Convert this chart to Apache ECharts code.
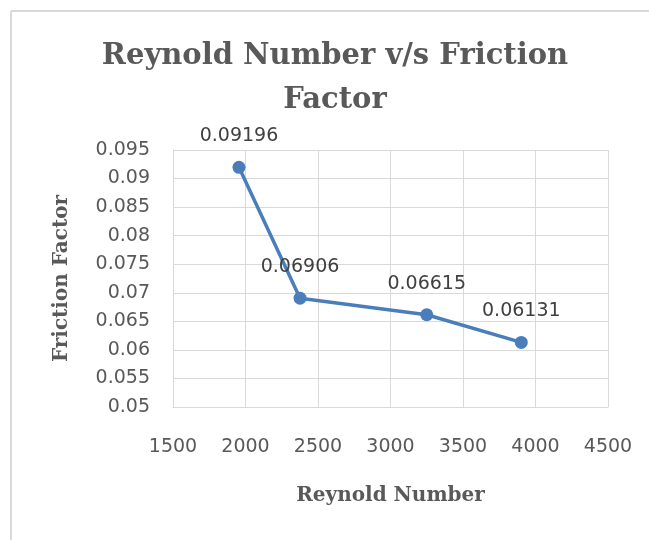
<!DOCTYPE html>
<html>
<head>
<meta charset="utf-8">
<script src="https://cdn.jsdelivr.net/npm/echarts@6/dist/echarts.min.js"></script>
<style>
  html, body { margin: 0; padding: 0; background: #fff; }
  #container { width: 649px; height: 540px; }
</style>
</head>
<body>
<div id="container"></div>
<script>
// data
const reynolds = [1955, 2376, 3250, 3902]
const friction = [0.09196, 0.06906, 0.06615, 0.06131]
const xTicks = [1500, 2000, 2500, 3000, 3500, 4000, 4500]
const yTicks = [0.05, 0.055, 0.06, 0.065, 0.07, 0.075, 0.08, 0.085, 0.09, 0.095]

const chart = echarts.init(document.getElementById('container'), null, { renderer: 'canvas' })
const gridColor = '#d9d9d9'
const textGray = '#595959'
const serif = 'DejaVu Serif'
const sans = 'DejaVu Sans'

const points = reynolds.map((x, i) => [x, friction[i]])

const option = {
  backgroundColor: '#fff',
  animation: false,
  // outer chart border, only top and left edges are inside the picture
  graphic: [
    {
      type: 'line',
      shape: { x1: 11, y1: 11, x2: 649, y2: 11 },
      style: { stroke: gridColor, lineWidth: 2 },
      silent: true
    },
    {
      type: 'line',
      shape: { x1: 11, y1: 11, x2: 11, y2: 540 },
      style: { stroke: gridColor, lineWidth: 2 },
      silent: true
    }
  ],
  title: {
    text: 'Reynold Number v/s Friction\nFactor',
    left: 335,
    top: 34,
    padding: 0,
    textAlign: 'center',
    textStyle: {
      fontFamily: serif,
      fontWeight: 'bold',
      fontSize: 29,
      lineHeight: 44,
      color: textGray
    }
  },
  grid: {
    left: 173,
    right: 41,
    top: 150,
    bottom: 133,
    containLabel: false
  },
  xAxis: {
    type: 'value',
    min: xTicks[0],
    max: xTicks[xTicks.length - 1],
    interval: xTicks[1] - xTicks[0],
    name: 'Reynold Number',
    nameLocation: 'middle',
    nameGap: 79,
    nameTextStyle: {
      fontFamily: serif,
      fontWeight: 'bold',
      fontSize: 20,
      color: textGray
    },
    axisLine: { show: true, lineStyle: { color: gridColor, width: 1 } },
    axisTick: { show: false },
    axisLabel: {
      margin: 31,
      fontFamily: sans,
      fontSize: 19,
      color: textGray,
      formatter: function(v) {
        return String(v)
      }
    },
    splitLine: { show: true, lineStyle: { color: gridColor, width: 1 } }
  },
  yAxis: {
    type: 'value',
    min: yTicks[0],
    max: yTicks[yTicks.length - 1],
    interval: 0.005,
    name: 'Friction Factor',
    nameLocation: 'middle',
    nameGap: 101,
    nameTextStyle: {
      fontFamily: serif,
      fontWeight: 'bold',
      fontSize: 20,
      color: textGray
    },
    axisLine: { show: true, lineStyle: { color: gridColor, width: 1 } },
    axisTick: { show: false },
    axisLabel: {
      margin: 23,
      fontFamily: sans,
      fontSize: 19,
      color: textGray,
      formatter: function(v) {
        return String(parseFloat(v.toFixed(3)))
      }
    },
    splitLine: { show: true, lineStyle: { color: gridColor, width: 1 } }
  },
  series: [
    {
      name: 'Friction Factor',
      type: 'line',
      data: points,
      symbol: 'circle',
      symbolSize: 13,
      itemStyle: { color: '#4a7ebb' },
      lineStyle: { color: '#4a7ebb', width: 3.5 },
      label: {
        show: true,
        position: 'top',
        distance: 15,
        fontFamily: sans,
        fontSize: 19,
        color: '#404040',
        formatter: function(p) {
          return String(p.value[1])
        }
      }
    }
  ]
}

option && chart.setOption(option)
</script>
</body>
</html>
